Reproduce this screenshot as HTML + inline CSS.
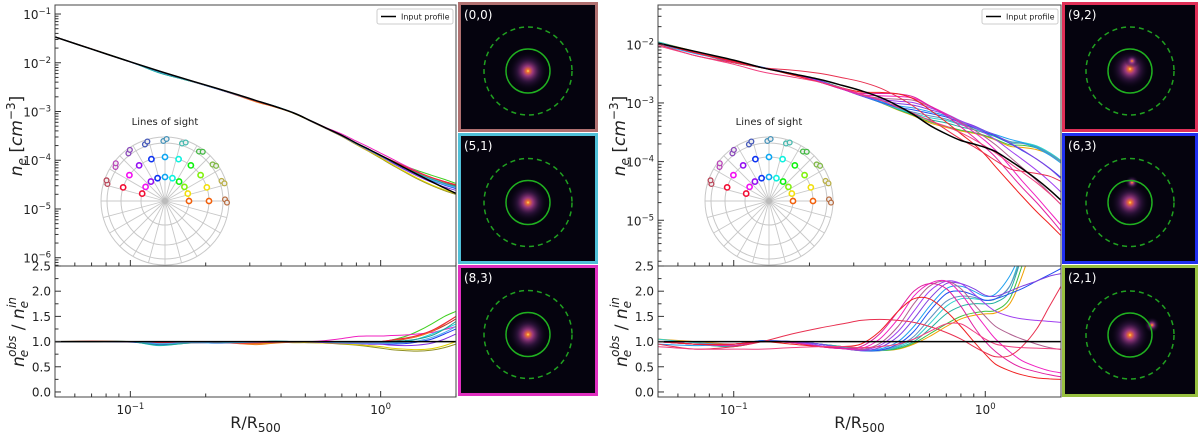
<!DOCTYPE html>
<html><head><meta charset="utf-8">
<style>
html,body{margin:0;padding:0;background:#fff;}
svg{display:block;font-family:"DejaVu Sans","Liberation Sans",sans-serif;}
</style></head>
<body>
<svg id="fig" width="1200" height="435" viewBox="0 0 1200 435" xmlns="http://www.w3.org/2000/svg">
<defs>
<clipPath id="cL1"><rect x="55" y="5" width="401" height="261"/></clipPath>
<clipPath id="cL2"><rect x="55" y="266" width="401" height="131"/></clipPath>
<clipPath id="cR1"><rect x="658" y="5" width="403" height="261"/></clipPath>
<clipPath id="cR2"><rect x="658" y="266" width="403" height="131"/></clipPath>
<radialGradient id="glow"><stop offset="0" stop-color="#ffe060"/><stop offset="0.08" stop-color="#f07030"/><stop offset="0.25" stop-color="#b04090" stop-opacity="0.85"/><stop offset="0.55" stop-color="#502060" stop-opacity="0.5"/><stop offset="1" stop-color="#000010" stop-opacity="0"/></radialGradient>
</defs>
<g id="root"></g>
</svg>
<script>
const NS="http://www.w3.org/2000/svg";
const X=[0.05,0.07,0.1,0.13,0.17,0.22,0.27,0.32,0.38,0.45,0.52,0.6,0.7,0.8,0.9,1.0,1.1,1.25,1.4,1.6,1.8,2.0];
const leftInput=[-1.47,-1.72,-1.98,-2.17,-2.35,-2.52,-2.66,-2.78,-2.9,-3.03,-3.18,-3.33,-3.49,-3.65,-3.78,-3.9,-4.01,-4.16,-4.29,-4.44,-4.57,-4.68];
const rightInput=[-1.98,-2.12,-2.27,-2.4,-2.5,-2.6,-2.7,-2.79,-2.9,-3.05,-3.2,-3.38,-3.53,-3.64,-3.7,-3.76,-3.83,-3.98,-4.12,-4.3,-4.48,-4.66];
const leftColors=["#40d020","#c03030","#2040f0","#f020c0","#909020","#e0d000","#20d0e0","#f08020","#8030e0","#20a090","#f02040","#50b0f0"];
const leftRatios=[
[1.0,1.01,1.0,0.93,0.97,0.99,0.98,0.98,0.99,1.0,1.0,1.0,0.99,0.98,0.98,1.0,1.03,1.1,1.2,1.35,1.5,1.6],
[1.0,1.0,1.0,0.97,0.99,0.98,0.97,0.96,0.98,1.0,0.99,0.99,0.98,0.98,0.98,0.98,1.0,1.05,1.1,1.2,1.32,1.45],
[1.0,1.0,0.99,0.95,0.98,0.97,0.98,0.98,0.99,0.99,0.98,0.98,0.97,0.96,0.95,0.95,0.95,0.96,0.99,1.05,1.15,1.25],
[1.0,1.0,1.0,0.98,0.99,0.99,0.99,0.99,1.0,1.0,1.0,1.02,1.06,1.1,1.11,1.11,1.12,1.13,1.15,1.18,1.24,1.3],
[1.0,1.0,1.0,0.97,0.98,0.99,0.98,0.98,0.99,0.98,0.98,0.97,0.95,0.93,0.9,0.87,0.84,0.82,0.81,0.83,0.88,0.95],
[1.0,1.0,1.0,0.97,0.98,0.99,0.97,0.96,0.98,0.98,0.98,0.97,0.96,0.94,0.92,0.9,0.87,0.85,0.84,0.86,0.92,1.0],
[1.0,1.0,1.0,0.92,0.97,0.98,0.98,0.99,1.01,1.0,1.0,0.99,0.98,0.98,0.97,0.97,0.98,1.0,1.05,1.15,1.25,1.35],
[1.0,1.0,1.0,0.98,0.99,0.99,0.96,0.94,0.97,0.99,1.0,1.0,0.99,0.99,0.99,1.0,1.02,1.06,1.1,1.2,1.35,1.5],
[1.0,1.0,1.0,0.98,0.99,0.98,0.98,0.98,0.99,0.99,0.99,0.98,0.97,0.96,0.95,0.95,0.93,0.92,0.93,0.97,1.05,1.15],
[1.0,1.0,1.0,0.93,0.97,0.98,0.99,1.0,1.01,1.0,1.0,1.0,1.0,0.99,0.99,1.0,1.01,1.02,1.05,1.12,1.25,1.4],
[1.0,1.01,1.0,0.98,0.98,0.97,0.97,0.97,0.99,1.0,1.0,1.0,1.0,0.99,0.99,1.0,1.03,1.07,1.12,1.22,1.36,1.5],
[1.0,1.0,1.0,0.96,0.98,0.97,0.98,0.99,1.0,1.0,1.0,0.99,0.98,0.97,0.97,0.97,0.97,0.98,1.01,1.08,1.18,1.3]];
const rightColors=["#f0a000","#40c040","#20b0a0","#30d0d0","#6090c0","#2050f0","#20a0f0","#8040e0","#a040f0","#b06090","#f020c0","#e020a0","#f02020","#e83050","#f04080"];
const rightRatios=[
[1.05,1.0,0.95,1.0,1.0,0.95,0.9,0.85,0.82,0.85,0.95,1.1,1.3,1.45,1.52,1.55,1.57,1.75,2.3,3.2,4.0,4.5],
[1.0,0.95,0.9,1.0,1.0,0.95,0.9,0.85,0.82,0.86,0.97,1.15,1.35,1.5,1.57,1.6,1.62,1.85,2.5,3.4,4.1,4.6],
[1.0,0.95,0.9,1.0,0.98,0.95,0.9,0.84,0.82,0.88,1.0,1.25,1.55,1.7,1.75,1.75,1.78,2.0,2.7,3.6,4.2,4.7],
[1.05,0.98,0.95,1.02,1.0,0.95,0.88,0.83,0.82,0.9,1.05,1.35,1.7,1.85,1.85,1.82,1.85,2.1,2.8,3.7,4.3,4.8],
[1.0,0.95,0.92,1.0,1.0,0.95,0.88,0.82,0.82,0.92,1.1,1.45,1.8,1.9,1.88,1.82,1.85,2.1,2.7,3.5,4.1,4.6],
[1.0,0.95,0.95,1.02,1.0,0.95,0.87,0.82,0.83,0.95,1.2,1.6,1.95,2.0,1.92,1.82,1.85,1.95,2.05,2.2,2.33,2.45],
[0.95,0.92,0.95,1.0,1.0,0.95,0.87,0.82,0.85,1.0,1.3,1.7,2.05,2.1,2.0,1.9,1.95,2.3,2.8,3.4,3.9,4.3],
[1.0,0.95,0.95,1.0,1.0,0.95,0.87,0.82,0.88,1.1,1.45,1.85,2.15,2.15,2.05,1.92,1.9,2.0,2.1,2.2,2.3,2.35],
[1.0,0.95,0.95,1.0,1.0,0.92,0.86,0.83,0.92,1.2,1.6,2.0,2.2,2.15,1.95,1.75,1.6,1.5,1.45,1.42,1.4,1.38],
[1.0,0.95,0.95,1.0,0.98,0.9,0.86,0.84,0.96,1.3,1.75,2.1,2.2,2.05,1.75,1.5,1.3,1.15,1.05,0.95,0.88,0.84],
[1.0,0.95,0.95,1.0,0.98,0.9,0.86,0.86,1.05,1.45,1.9,2.15,2.2,1.95,1.6,1.3,1.05,0.8,0.62,0.5,0.42,0.38],
[1.0,0.95,0.92,1.0,0.98,0.9,0.86,0.9,1.15,1.6,2.0,2.15,2.05,1.7,1.3,1.0,0.8,0.6,0.48,0.4,0.34,0.3],
[1.0,0.95,0.95,1.0,0.95,0.9,0.9,0.95,1.2,1.6,1.85,1.85,1.6,1.3,1.0,0.75,0.55,0.42,0.34,0.28,0.26,0.25],
[0.95,0.85,0.9,1.0,1.15,1.27,1.35,1.42,1.44,1.42,1.38,1.3,1.18,1.05,0.9,0.78,0.7,0.72,0.9,1.25,1.7,2.1],
[0.9,0.85,0.85,0.85,0.88,0.9,0.9,0.88,0.9,0.95,1.05,1.2,1.35,1.35,1.2,1.05,0.95,0.9,0.88,0.87,0.86,0.85]];
const xTickLabels=["10","10"];
const xTickExps=["−1","0"];
const leftYExps=[-1,-2,-3,-4,-5,-6];
const rightYExps=[-2,-3,-4,-5];
const ratioTicks=[0.0,0.5,1.0,1.5,2.0,2.5];

const root=document.getElementById('root');
function el(tag,attrs,parent){const e=document.createElementNS(NS,tag);for(const k in attrs)e.setAttribute(k,attrs[k]);(parent||root).appendChild(e);return e;}
function path(pts){
  let d="M"+pts[0][0].toFixed(1)+","+pts[0][1].toFixed(1);
  for(let i=0;i<pts.length-1;i++){
    const p0=pts[i-1]||pts[i],p1=pts[i],p2=pts[i+1],p3=pts[i+2]||p2;
    const c1=[p1[0]+(p2[0]-p0[0])/6,p1[1]+(p2[1]-p0[1])/6];
    const c2=[p2[0]-(p3[0]-p1[0])/6,p2[1]-(p3[1]-p1[1])/6];
    d+="C"+c1[0].toFixed(1)+","+c1[1].toFixed(1)+" "+c2[0].toFixed(1)+","+c2[1].toFixed(1)+" "+p2[0].toFixed(1)+","+p2[1].toFixed(1);
  }
  return d;
}
function panel(P){
  const lx0=Math.log10(0.05),lx1=Math.log10(2.0);
  const sx=v=>P.x0+(Math.log10(v)-lx0)/(lx1-lx0)*(P.x1-P.x0);
  const sy=l=>5+(P.ymax-l)/(P.ymax-P.ymin)*261;
  const sr=r=>266+(2.5-r)/2.6*131;
  const g=el('g',{});
  
  
  const gt=el('g',{'clip-path':'url(#'+P.clip1+')'},g);
  P.ratios.forEach((rs,i)=>{
    const pts=X.map((x,j)=>[sx(x),sy(P.input[j]+Math.log10(rs[j]))]);
    const p=el('path',{d:path(pts),fill:'none',stroke:P.colors[i],'stroke-width':1},gt);
    
    
  });
  const inp=el('path',{d:path(X.map((x,j)=>[sx(x),sy(P.input[j])])),fill:'none',stroke:'#000','stroke-width':1.5},gt);
  
  
  const gb=el('g',{'clip-path':'url(#'+P.clip2+')'},g);
  P.ratios.forEach((rs,i)=>{
    const p=el('path',{d:path(X.map((x,j)=>[sx(x),sr(rs[j])])),fill:'none',stroke:P.colors[i],'stroke-width':1},gb);
    
    
  });
  const one=el('line',{x1:P.x0,x2:P.x1,y1:sr(1),y2:sr(1),stroke:'#000','stroke-width':1.5},gb);
  
  
  const f1=el('rect',{x:P.x0,y:5,width:P.x1-P.x0,height:261,fill:'none',stroke:'#444','stroke-width':1},g);
  
  const f2=el('rect',{x:P.x0,y:266,width:P.x1-P.x0,height:131,fill:'none',stroke:'#444','stroke-width':1},g);
  
  for(let dec=-2;dec<=0;dec++)for(let m=1;m<10;m++){
    const v=m*Math.pow(10,dec); if(v<0.05||v>2.0001)continue;
    const X0=sx(v),len=m===1?6:3.5;
    el('line',{x1:X0,x2:X0,y1:266,y2:266-len,stroke:'#333'},g);
    el('line',{x1:X0,x2:X0,y1:397,y2:397-len,stroke:'#333'},g);
  }
  [0.1,1].forEach((v,i)=>{
    const t=el('text',{x:sx(v),y:414,'font-size':12,'text-anchor':'middle',fill:'#222'},g);
    
    t.innerHTML=xTickLabels[i]+'<tspan dy="-5" font-size="8.5">'+xTickExps[i]+'</tspan>';
  });
  const xl=el('text',{x:(P.x0+P.x1)/2,y:428,'font-size':16,'text-anchor':'middle',fill:'#222'},g);
  
  xl.innerHTML='R/R<tspan dy="4" font-size="12">500</tspan>';
  for(let e=Math.floor(P.ymin);e<=Math.ceil(P.ymax);e++)for(let m=1;m<10;m++){
    const l=e+Math.log10(m); if(l<P.ymin||l>P.ymax)continue;
    el('line',{x1:P.x0,x2:P.x0+(m===1?6:3.5),y1:sy(l),y2:sy(l),stroke:'#333'},g);
  }
  P.exps.forEach(e=>{
    const t=el('text',{x:P.x0-4,y:sy(e)+5,'font-size':12,'text-anchor':'end',fill:'#222'},g);
    
    t.innerHTML='10<tspan dy="-5" font-size="8.5">−'+(-e)+'</tspan>';
  });
  for(let r=0;r<=2.5001;r+=0.25){el('line',{x1:P.x0,x2:P.x0+(r%0.5===0?6:3.5),y1:sr(r),y2:sr(r),stroke:'#333'},g);}
  ratioTicks.forEach(r=>{
    const t=el('text',{x:P.x0-4,y:sr(r)+4.5,'font-size':12,'text-anchor':'end',fill:'#222'},g);
    
    t.textContent=r.toFixed(1);
  });
  const yl=el('text',{transform:'translate('+(P.x0-33)+',136) rotate(-90)','font-size':17,'text-anchor':'middle',fill:'#222'},g);
  
  yl.innerHTML='<tspan font-style="italic">n</tspan><tspan dy="4" font-size="12" font-style="italic">e</tspan><tspan dy="-4"> [</tspan><tspan font-style="italic">cm</tspan><tspan dy="-7" font-size="12">−3</tspan><tspan dy="7">]</tspan>';
  const rl=el('text',{transform:'translate('+(P.x0-31)+',332) rotate(-90)','font-size':17,'text-anchor':'middle',fill:'#222'},g);
  
  rl.innerHTML='<tspan font-style="italic">n</tspan><tspan dy="4" dx="-1" font-size="12" font-style="italic">e</tspan><tspan dy="-12" dx="-7" font-size="12" font-style="italic">obs</tspan><tspan dy="8"> / </tspan><tspan font-style="italic">n</tspan><tspan dy="4" font-size="12" font-style="italic">e</tspan><tspan dy="-12" dx="-7" font-size="12" font-style="italic">in</tspan>';
  const lg=el('g',{},g);
  
  el('rect',{x:P.x1-79,y:9,width:76,height:15,rx:2,fill:'#fff',stroke:'#ccc'},lg);
  el('line',{x1:P.x1-75,x2:P.x1-60,y1:16.5,y2:16.5,stroke:'#000','stroke-width':1.5},lg);
  const lt=el('text',{x:P.x1-55,y:19.5,'font-size':8,fill:'#222'},lg);
  lt.textContent='Input profile';
  const cx=P.pcx,cy=201,pg=el('g',{},g);
  
  const pt=el('text',{x:cx,y:125,'font-size':10,'text-anchor':'middle',fill:'#222'},pg);
  pt.textContent='Lines of sight';
  [24,44,58,64].forEach(r=>el('circle',{cx:cx,cy:cy,r:r,fill:'none',stroke:'#c8c8c8','stroke-width':1},pg));
  for(let a=0;a<360;a+=15){const t=a*Math.PI/180;el('line',{x1:cx,y1:cy,x2:cx+64*Math.cos(t),y2:cy-64*Math.sin(t),stroke:'#c8c8c8','stroke-width':0.9},pg);}
  el('circle',{cx:cx,cy:cy,r:3,fill:'#bbb'},pg);
  const hues=[22,55,90,120,175,200,230,275,300,350];
  hues.forEach((h,i)=>{
    const t=i*18*Math.PI/180;
    [24,44].forEach(r=>el('circle',{cx:cx+r*Math.cos(t),cy:cy-r*Math.sin(t),r:2.6,fill:'#fff',stroke:'hsl('+h+',90%,50%)','stroke-width':1.6},pg));
    [[60,-1.6],[62,1.6]].forEach(([r,o])=>{
      const px=cx+r*Math.cos(t), py=cy-r*Math.sin(t);
      el('circle',{cx:px+o*Math.sin(t),cy:py+o*Math.cos(t),r:2.4,fill:'#eee',stroke:'hsl('+h+',45%,50%)','stroke-width':1.3},pg);
    });
  });
}
panel({name:'left',x0:55,x1:456,ymax:-0.815,ymin:-6.17,input:leftInput,ratios:leftRatios,colors:leftColors,exps:leftYExps,clip1:'cL1',clip2:'cL2',pcx:165});
panel({name:'right',x0:658,x1:1061,ymax:-1.33,ymin:-5.78,input:rightInput,ratios:rightRatios,colors:rightColors,exps:rightYExps,clip1:'cR1',clip2:'cR2',pcx:769});

const thumbs=[
 {x:458,y:2,w:140,h:130,c:'#b07070',l:'(0,0)',b:[[0,0,1]]},
 {x:458,y:133,w:140,h:131,c:'#50c0d8',l:'(5,1)',b:[[0,0,1]]},
 {x:458,y:265,w:140,h:131,c:'#e030c0',l:'(8,3)',b:[[0,0,1]]},
 {x:1062,y:2,w:136,h:130,c:'#e03058',l:'(9,2)',b:[[0,-2,1],[2,-10,0.35]]},
 {x:1062,y:133,w:136,h:131,c:'#2030f0',l:'(6,3)',b:[[0,0,1],[2,-20,0.35]]},
 {x:1062,y:265,w:136,h:132,c:'#98c040',l:'(2,1)',b:[[0,0,1],[22,-10,0.4]]}];
thumbs.forEach(T=>{
  const g=el('g',{});
  
  
  el('rect',{x:T.x+1.5,y:T.y+1.5,width:T.w-3,height:T.h-3,fill:'#05030e',stroke:T.c,'stroke-width':3},g);
  const cx=T.x+T.w/2,cy=T.y+T.h/2+4;
  T.b.forEach(([dx,dy,s])=>el('circle',{cx:cx+dx,cy:cy+dy,r:20*s,fill:'url(#glow)'},g));
  el('circle',{cx:cx,cy:cy,r:22,fill:'none',stroke:'#20b020','stroke-width':1.5},g);
  el('circle',{cx:cx,cy:cy,r:44,fill:'none',stroke:'#20a020','stroke-width':1.5,'stroke-dasharray':'5,4'},g);
  const t=el('text',{x:T.x+6,y:T.y+17,'font-size':12,fill:'#fff'},g);
  t.textContent=T.l;
});
</script>
</body></html>
